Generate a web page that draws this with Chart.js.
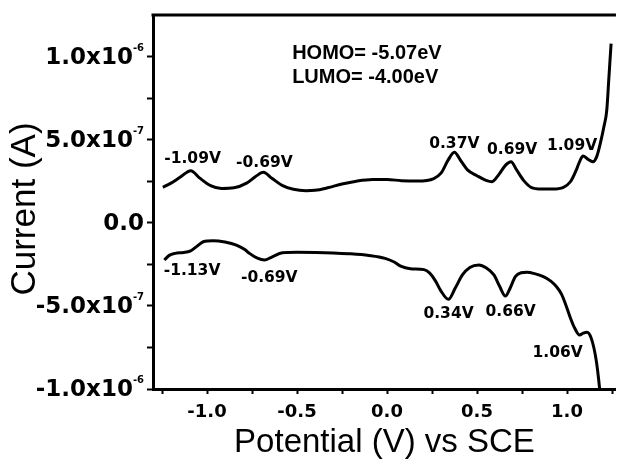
<!DOCTYPE html>
<html><head><meta charset="utf-8">
<script src="https://cdn.jsdelivr.net/npm/chart.js@4/dist/chart.umd.min.js"></script>
<style>html,body{margin:0;padding:0;background:#fff;overflow:hidden}#wrap{width:620px;height:464px;position:relative}</style>
</head><body><div id="wrap"><canvas id="c" width="620" height="464"></canvas></div>
<script>
// Forward (upper) sweep: potential (V) and current (A)
const upperV = [-1.245,-1.20,-1.15,-1.09,-1.04,-0.98,-0.92,-0.85,-0.78,-0.73,-0.687,-0.64,-0.58,-0.52,-0.45,-0.40,-0.33,-0.25,-0.17,-0.08,0.00,0.08,0.17,0.26,0.30,0.34,0.374,0.41,0.447,0.50,0.55,0.584,0.62,0.66,0.689,0.72,0.76,0.80,0.86,0.92,0.98,1.02,1.05,1.07,1.089,1.115,1.144,1.165,1.185,1.205,1.221,1.233,1.245];
const upperI = [0.215e-6,0.240e-6,0.275e-6,0.315e-6,0.270e-6,0.225e-6,0.208e-6,0.212e-6,0.240e-6,0.280e-6,0.305e-6,0.270e-6,0.225e-6,0.203e-6,0.195e-6,0.197e-6,0.212e-6,0.235e-6,0.252e-6,0.262e-6,0.262e-6,0.255e-6,0.253e-6,0.268e-6,0.300e-6,0.380e-6,0.426e-6,0.375e-6,0.320e-6,0.285e-6,0.257e-6,0.249e-6,0.290e-6,0.350e-6,0.369e-6,0.320e-6,0.255e-6,0.215e-6,0.205e-6,0.205e-6,0.215e-6,0.250e-6,0.315e-6,0.370e-6,0.404e-6,0.385e-6,0.369e-6,0.400e-6,0.480e-6,0.580e-6,0.680e-6,0.880e-6,1.080e-6];
// Reverse (lower) sweep
const lowerV = [-1.237,-1.21,-1.177,-1.13,-1.094,-1.05,-1.021,-0.966,-0.90,-0.837,-0.79,-0.764,-0.72,-0.681,-0.64,-0.581,-0.50,-0.397,-0.30,-0.214,-0.10,-0.011,0.04,0.076,0.13,0.206,0.236,0.27,0.30,0.341,0.38,0.419,0.46,0.511,0.55,0.594,0.625,0.658,0.685,0.713,0.745,0.777,0.82,0.869,0.91,0.942,0.97,0.997,1.02,1.043,1.07,1.09,1.111,1.135,1.162,1.18,1.185];
const lowerI = [-0.223e-6,-0.195e-6,-0.183e-6,-0.178e-6,-0.170e-6,-0.135e-6,-0.113e-6,-0.107e-6,-0.115e-6,-0.133e-6,-0.160e-6,-0.183e-6,-0.212e-6,-0.223e-6,-0.205e-6,-0.179e-6,-0.176e-6,-0.177e-6,-0.180e-6,-0.185e-6,-0.196e-6,-0.213e-6,-0.235e-6,-0.260e-6,-0.275e-6,-0.281e-6,-0.300e-6,-0.350e-6,-0.410e-6,-0.460e-6,-0.390e-6,-0.313e-6,-0.268e-6,-0.253e-6,-0.270e-6,-0.313e-6,-0.380e-6,-0.440e-6,-0.390e-6,-0.323e-6,-0.300e-6,-0.297e-6,-0.305e-6,-0.323e-6,-0.350e-6,-0.384e-6,-0.430e-6,-0.504e-6,-0.575e-6,-0.634e-6,-0.675e-6,-0.664e-6,-0.658e-6,-0.695e-6,-0.825e-6,-0.986e-6,-1.05e-6];

// Ticks
const xTickValues = [-1.25,-1.0,-0.75,-0.5,-0.25,0,0.25,0.5,0.75,1.0,1.25];
const xMajorValues = [-1.0,-0.5,0,0.5,1.0];
const xMajorLabels = ['-1.0','-0.5','0.0','0.5','1.0'];
const yTickValues = [-1e-6,-0.75e-6,-0.5e-6,-0.25e-6,0,0.25e-6,0.5e-6,0.75e-6,1e-6];
const yMajorValues = [-1e-6,-5e-7,0,5e-7,1e-6];
const yMajorMantissa = ['-1.0x10','-5.0x10','0.0','5.0x10','1.0x10'];
const yMajorExponent = ['-6','-7','','-7','-6'];
const yTitle = 'Current (A)';

// Peak annotations (text, potential, current at label baseline)
const peakLabels = ['-1.09V','-0.69V','0.37V','0.69V','1.09V','-1.13V','-0.69V','0.34V','0.66V','1.06V'];
const peakLabelV = [-1.080,-0.681,0.374,0.695,1.028,-1.083,-0.654,0.342,0.687,0.948];
const peakLabelI = [0.360e-6,0.339e-6,0.454e-6,0.414e-6,0.440e-6,-0.313e-6,-0.354e-6,-0.574e-6,-0.560e-6,-0.805e-6];
const noteLines = ['HOMO= -5.07eV','LUMO= -4.00eV'];
const noteV = [-0.527,-0.527];
const noteI = [0.988e-6,0.843e-6];

const near = (a,b) => Math.abs(a-b) < 1e-12;

const decor = {
  id: 'decor',
  afterDraw(chart) {
    const ctx = chart.ctx, ca = chart.chartArea;
    const xs = chart.scales.x, ys = chart.scales.y;
    ctx.save();
    // top frame line
    ctx.strokeStyle = '#000'; ctx.lineWidth = 3;
    ctx.beginPath(); ctx.moveTo(ca.left - 1.5, ca.top); ctx.lineTo(ca.right, ca.top); ctx.stroke();
    // y tick labels with superscript exponents
    ctx.fillStyle = '#000';
    const rightEdge = ca.left - 9;
    for (let i = 0; i < yMajorValues.length; i++) {
      const y = ys.getPixelForValue(yMajorValues[i]);
      ctx.font = 'bold 10px "DejaVu Sans"';
      const ew = yMajorExponent[i] ? ctx.measureText(yMajorExponent[i]).width : 0;
      ctx.textAlign = 'right'; ctx.textBaseline = 'middle';
      if (yMajorExponent[i]) ctx.fillText(yMajorExponent[i], rightEdge, y - 9);
      ctx.font = 'bold 23px "DejaVu Sans"';
      ctx.fillText(yMajorMantissa[i], rightEdge - ew, y + 1);
    }
    // y axis title (rotated)
    ctx.save();
    ctx.translate(25, (ca.top + ca.bottom) / 2 + 7);
    ctx.rotate(-Math.PI / 2);
    ctx.font = '35px "Liberation Sans"';
    ctx.textAlign = 'center'; ctx.textBaseline = 'middle';
    ctx.fillText(yTitle, 0, 0);
    ctx.restore();
    // peak labels
    ctx.font = 'bold 15.5px "DejaVu Sans"';
    ctx.textAlign = 'center'; ctx.textBaseline = 'alphabetic';
    for (let i = 0; i < peakLabels.length; i++) {
      ctx.fillText(peakLabels[i], xs.getPixelForValue(peakLabelV[i]), ys.getPixelForValue(peakLabelI[i]));
    }
    // HOMO / LUMO
    ctx.font = 'bold 20px "Liberation Sans"';
    ctx.textAlign = 'left';
    for (let i = 0; i < noteLines.length; i++) {
      ctx.fillText(noteLines[i], xs.getPixelForValue(noteV[i]), ys.getPixelForValue(noteI[i]));
    }
    ctx.restore();
  }
};

const toPts = (xv, yv) => xv.map((v, i) => ({x: v, y: yv[i]}));

new Chart(document.getElementById('c'), {
  type: 'line',
  data: {
    datasets: [
      {data: toPts(upperV, upperI), borderColor: '#000', borderWidth: 3, pointRadius: 0, fill: false, cubicInterpolationMode: 'monotone'},
      {data: toPts(lowerV, lowerI), borderColor: '#000', borderWidth: 3, pointRadius: 0, fill: false, cubicInterpolationMode: 'monotone'}
    ]
  },
  options: {
    responsive: false, animation: false, devicePixelRatio: 1,
    layout: {padding: {top: 15, right: 0, left: 0, bottom: 0}},
    plugins: {legend: {display: false}, tooltip: {enabled: false}},
    scales: {
      x: {
        type: 'linear', min: -1.3, max: 1.272,
        afterBuildTicks: s => { s.ticks = xTickValues.map(v => ({value: v})); },
        afterFit: s => { s.height = 75; },
        ticks: {
          autoSkip: false, maxRotation: 0, minRotation: 0, padding: 8, color: '#000',
          font: {family: 'DejaVu Sans', weight: 'bold', size: 18},
          callback: v => { const k = xMajorValues.findIndex(m => near(m, v)); return k >= 0 ? xMajorLabels[k] : ''; }
        },
        grid: {drawOnChartArea: false, drawTicks: true, tickLength: 5, tickWidth: 2, tickColor: '#000', color: '#000'},
        border: {display: true, width: 3, color: '#000'},
        title: {display: true, text: 'Potential (V) vs SCE', color: '#000', font: {family: 'Liberation Sans', size: 33}, padding: {top: 0, bottom: 1}}
      },
      y: {
        type: 'linear', min: -1e-6, max: 1.253e-6,
        afterBuildTicks: s => { s.ticks = yTickValues.map(v => ({value: v})); },
        afterFit: s => { s.width = 153; },
        ticks: {callback: () => '', padding: 0},
        grid: {drawOnChartArea: false, drawTicks: true, tickLength: 6, tickWidth: 2, tickColor: '#000', color: '#000'},
        border: {display: true, width: 3, color: '#000'},
        title: {display: false}
      }
    }
  },
  plugins: [decor]
});
</script></body></html>
